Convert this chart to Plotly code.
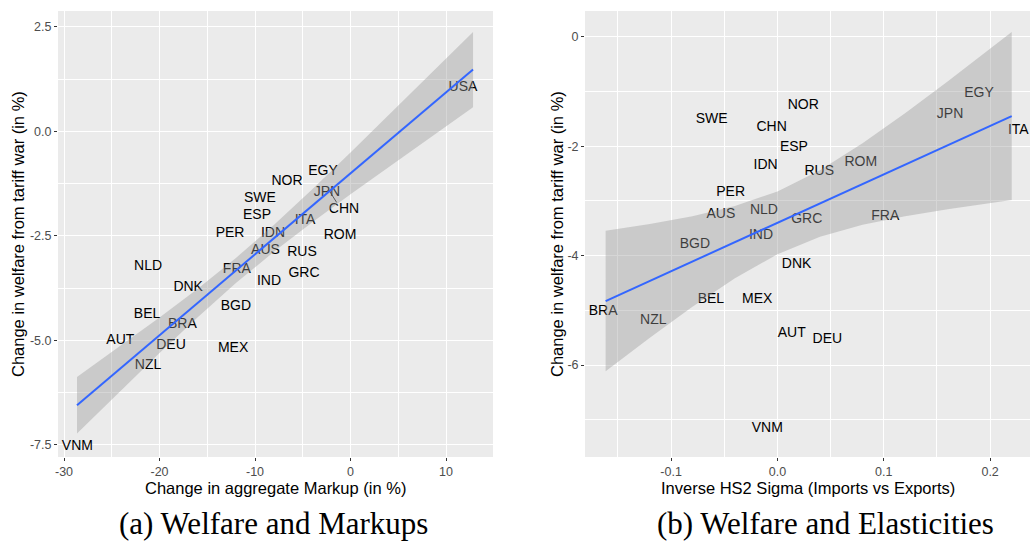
import plotly.graph_objects as go

# ---------------- Panel (a): Welfare and Markups ----------------
a_countries = ["USA", "EGY", "NOR", "JPN", "SWE", "CHN", "ESP", "ITA", "PER", "IDN",
               "ROM", "AUS", "RUS", "FRA", "GRC", "IND", "NLD", "DNK", "BGD", "BEL",
               "BRA", "AUT", "DEU", "MEX", "NZL", "VNM"]
a_markup = [11.78, -2.88, -6.65, -2.46, -9.48, -0.68, -9.79, -4.76, -12.61, -8.12,
            -1.10, -8.90, -5.08, -11.90, -4.87, -8.53, -21.20, -17.00, -12.00, -21.30,
            -17.60, -24.10, -18.80, -12.30, -21.20, -28.60]
a_welfare = [1.04, -0.97, -1.21, -1.47, -1.61, -1.88, -2.02, -2.12, -2.45, -2.45,
             -2.50, -2.86, -2.90, -3.31, -3.39, -3.58, -3.24, -3.74, -4.20, -4.39,
             -4.63, -5.01, -5.13, -5.20, -5.59, -7.55]
# repel connector for JPN
a_jpn_seg_x = [-2.22, -1.45]
a_jpn_seg_y = [-1.42, -1.70]
# fitted line and confidence band
a_fit_x = [-28.64, -24, -20, -16, -12, -8, -4, 0, 4, 8, 12.83]
a_fit_y = [-6.550, -5.652, -4.877, -4.103, -3.329, -2.554, -1.780, -1.005, -0.231, 0.544, 1.479]
a_fit_hi = [-5.875, -5.118, -4.451, -3.762, -3.028, -2.232, -1.384, -0.506, 0.386, 1.286, 2.379]
a_fit_lo = [-7.225, -6.186, -5.303, -4.444, -3.630, -2.876, -2.176, -1.504, -0.848, -0.198, 0.579]
a_xticks = [-30, -20, -10, 0, 10]
a_xticktext = ["-30", "-20", "-10", "0", "10"]
a_xminor = [-25, -15, -5, 5]
a_yticks = [-7.5, -5.0, -2.5, 0.0, 2.5]
a_yticktext = ["-7.5", "-5.0", "-2.5", "0.0", "2.5"]
a_yminor = [-6.25, -3.75, -1.25, 1.25]

# ---------------- Panel (b): Welfare and Elasticities ----------------
b_countries = ["EGY", "NOR", "JPN", "SWE", "CHN", "ITA", "ESP", "ROM", "IDN", "RUS",
               "PER", "AUS", "NLD", "GRC", "FRA", "IND", "BGD", "DNK", "BEL", "MEX",
               "BRA", "NZL", "AUT", "DEU", "VNM"]
b_sigma = [0.1896, 0.0243, 0.1623, -0.0619, -0.0055, 0.2265, 0.0155, 0.0783, -0.0111, 0.0393,
           -0.0440, -0.0532, -0.0127, 0.0275, 0.1014, -0.0155, -0.0776, 0.0180, -0.0626, -0.0190,
           -0.1639, -0.1168, 0.0134, 0.0469, -0.0096]
b_welfare = [-1.03, -1.25, -1.42, -1.51, -1.65, -1.71, -2.02, -2.30, -2.36, -2.47,
             -2.85, -3.25, -3.18, -3.34, -3.28, -3.63, -3.80, -4.17, -4.81, -4.80,
             -5.03, -5.18, -5.42, -5.53, -7.16]
b_fit_x = [-0.1616, -0.12, -0.08, -0.04, 0.0, 0.04, 0.08, 0.12, 0.16, 0.2203]
b_fit_y = [-4.830, -4.462, -4.108, -3.754, -3.400, -3.046, -2.692, -2.338, -1.984, -1.450]
b_fit_hi = [-3.545, -3.421, -3.280, -3.095, -2.827, -2.439, -1.948, -1.398, -0.817, 0.085]
b_fit_lo = [-6.115, -5.503, -4.936, -4.413, -3.973, -3.653, -3.436, -3.279, -3.151, -2.985]
b_xticks = [-0.1, 0.0, 0.1, 0.2]
b_xticktext = ["-0.1", "0.0", "0.1", "0.2"]
b_xminor = [-0.15, -0.05, 0.05, 0.15]
b_yticks = [-6, -4, -2, 0]
b_yticktext = ["-6", "-4", "-2", "0"]
b_yminor = [-7, -5, -3, -1]

# ---------------- styling ----------------
SANS = "Liberation Sans, Arial, sans-serif"
SERIF = "Liberation Serif, Times New Roman, serif"
W, H = 1030, 541
BAND = "rgba(153,153,153,0.4)"
LINE = "#3366FF"

fig = go.Figure()


def add_panel(xs, ys, labels, fx, fy, fhi, flo, xa, ya, seg=None):
    fig.add_trace(go.Scatter(x=xs, y=ys, text=labels, mode="text",
                             textfont=dict(family=SANS, size=14, color="black"),
                             textposition="middle center", cliponaxis=False,
                             xaxis=xa, yaxis=ya, hoverinfo="skip", showlegend=False))
    if seg is not None:
        fig.add_trace(go.Scatter(x=seg[0], y=seg[1], mode="lines",
                                 line=dict(color="black", width=0.8),
                                 xaxis=xa, yaxis=ya, hoverinfo="skip", showlegend=False))
    fig.add_trace(go.Scatter(x=list(fx) + list(fx)[::-1], y=list(fhi) + list(flo)[::-1],
                             mode="lines", fill="toself", fillcolor=BAND,
                             line=dict(width=0, color="rgba(0,0,0,0)"),
                             xaxis=xa, yaxis=ya, hoverinfo="skip", showlegend=False))
    fig.add_trace(go.Scatter(x=fx, y=fy, mode="lines", line=dict(color=LINE, width=2),
                             xaxis=xa, yaxis=ya, hoverinfo="skip", showlegend=False))


add_panel(a_markup, a_welfare, a_countries, a_fit_x, a_fit_y, a_fit_hi, a_fit_lo,
          "x", "y", seg=(a_jpn_seg_x, a_jpn_seg_y))
add_panel(b_sigma, b_welfare, b_countries, b_fit_x, b_fit_y, b_fit_hi, b_fit_lo, "x2", "y2")


def axis(domain, rng, tickvals, ticktext, minor, anchor):
    return dict(domain=domain, range=rng, anchor=anchor,
                tickmode="array", tickvals=tickvals, ticktext=ticktext,
                ticks="outside", ticklen=3, tickwidth=1, tickcolor="#333333",
                tickfont=dict(family=SANS, size=12.5, color="#4D4D4D"),
                showgrid=True, gridcolor="white", gridwidth=1.3,
                minor=dict(tickvals=minor, showgrid=True, gridcolor="white",
                           gridwidth=0.6, ticks=""),
                zeroline=False, showline=False, fixedrange=True, automargin=False)


ydom = [(H - 457) / H, (H - 11) / H]
fig.update_layout(
    width=W, height=H,
    margin=dict(l=0, r=0, t=0, b=0, autoexpand=False),
    paper_bgcolor="white", plot_bgcolor="#EBEBEB",
    xaxis=axis([58 / W, 493 / W], [-30.63, 14.92], a_xticks, a_xticktext, a_xminor, "y"),
    yaxis=axis(ydom, [-7.79, 2.88], a_yticks, a_yticktext, a_yminor, "x"),
    xaxis2=axis([585 / W, 1.0], [-0.181, 0.2375], b_xticks, b_xticktext, b_xminor, "y2"),
    yaxis2=axis(ydom, [-7.68, 0.47], b_yticks, b_yticktext, b_yminor, "x2"),
    showlegend=False,
)

ann = []
def px_ann(text, x, y, size, family, angle=0, color="black"):
    ann.append(dict(text=text, x=x / W, y=(H - y) / H, xref="paper", yref="paper",
                    showarrow=False, xanchor="center", yanchor="middle",
                    textangle=angle, font=dict(family=family, size=size, color=color)))

px_ann("Change in aggregate Markup (in %)", 275.5, 488, 16.5, SANS)
px_ann("Inverse HS2 Sigma (Imports vs Exports)", 807.5, 488, 16.5, SANS)
px_ann("Change in welfare from tariff war (in %)", 18, 234, 16.5, SANS, angle=-90)
px_ann("Change in welfare from tariff war (in %)", 557, 234, 16.5, SANS, angle=-90)
px_ann("(a) Welfare and Markups", 273, 523, 31, SERIF)
px_ann("(b) Welfare and Elasticities", 825, 523, 31, SERIF)
fig.update_layout(annotations=ann)

fig.write_html("out.html", config={"displayModeBar": False},
               post_script="document.body.style.margin='0';document.body.style.overflow='hidden';")
